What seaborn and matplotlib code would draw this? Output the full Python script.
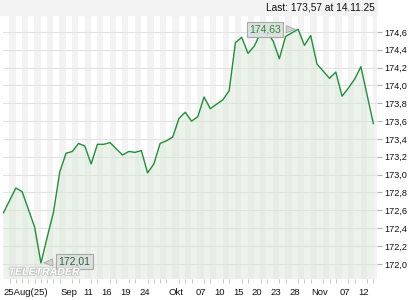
import numpy as np
import pandas as pd
import matplotlib
matplotlib.use("Agg")
import matplotlib.pyplot as plt
import matplotlib.patheffects as pe
from matplotlib.ticker import FuncFormatter, FixedLocator, MultipleLocator
import seaborn as sns

# ---- data ----
prices = [172.57, 172.71, 172.85, 172.81, 172.61, 172.41, 172.01, 172.30, 172.58, 173.03,
          173.24, 173.26, 173.35, 173.32, 173.12, 173.34, 173.34, 173.36, 173.29, 173.22,
          173.26, 173.25, 173.27, 173.02, 173.12, 173.35, 173.38, 173.42, 173.63, 173.70,
          173.60, 173.65, 173.87, 173.74, 173.79, 173.84, 173.94, 174.48, 174.54, 174.36,
          174.44, 174.59, 174.60, 174.50, 174.30, 174.55, 174.59, 174.63, 174.45, 174.56,
          174.24, 174.16, 174.08, 174.15, 173.88, 173.97, 174.07, 174.21, 173.89, 173.57]
dates = pd.bdate_range("2025-08-25", "2025-11-14")
tick_dates = ["2025-08-25", "2025-09-08", "2025-09-11", "2025-09-16", "2025-09-19",
              "2025-09-24", "2025-10-01", "2025-10-07", "2025-10-10", "2025-10-15",
              "2025-10-20", "2025-10-23", "2025-10-28", "2025-11-03", "2025-11-07",
              "2025-11-12"]
tick_labels = ["25Aug(25)", "Sep", "11", "16", "19", "24", "Okt", "07", "10", "15",
               "20", "23", "28", "Nov", "07", "12"]
y_ticks = [172.0, 172.2, 172.4, 172.6, 172.8, 173.0, 173.2, 173.4, 173.6, 173.8,
           174.0, 174.2, 174.4, 174.6]
last_text = "Last: 173,57 at 14.11.25"

df = pd.DataFrame({"idx": np.arange(len(prices)), "price": prices})

sns.set_theme(style="white")
plt.rcParams["font.family"] = ["Liberation Sans", "DejaVu Sans"]

fig = plt.figure(figsize=(4.2, 3.0), dpi=100)
W, H = 420, 300
left, right, top, bottom = 3, 377, 15, 279
ax = fig.add_axes([left / W, (H - bottom) / H, (right - left) / W, (bottom - top) / H])

# top band
fig.patches.append(plt.Rectangle((0, (H - top) / H), right / W, top / H,
                                 transform=fig.transFigure, color="#f3f3f3", zorder=0))
fig.text((right - 2) / W, (H - 7.5) / H, last_text, ha="right", va="center",
         fontsize=7.3, color="#111111")

ax.set_facecolor("white")
n = len(prices)
ax.set_xlim(-0.05, n - 1 + 0.57)
ax.set_ylim(171.83, 174.79)

# alternating daily stripes
for k in range(-1, n + 1):
    if k % 2 != 0:
        ax.axvspan(k - 0.05, k + 0.95, color="#f3f3f3", lw=0, zorder=0)

# grid
for v in y_ticks:
    ax.axhline(v, color="#e2e2e2", lw=0.8, zorder=1)

# area fill
ax.fill_between(df["idx"], df["price"], 171.0, color="#d6e6d2", alpha=0.45, lw=0, zorder=2)
sns.lineplot(data=df, x="idx", y="price", ax=ax, color="#1f8f3a", lw=1.0, zorder=3)

# spines
for s in ax.spines.values():
    s.set_visible(False)

# y axis on right
ax.yaxis.tick_right()
ax.yaxis.set_major_locator(FixedLocator(y_ticks))
ax.yaxis.set_major_formatter(FuncFormatter(lambda v, p: f"{v:.1f}".replace(".", ",")))
ax.tick_params(axis="y", which="major", length=3.5, width=0.8, color="#b0b0b0",
               labelsize=6.6, pad=1.5, labelcolor="#111111", right=True, left=False)

# x axis
pos = [dates.get_loc(pd.Timestamp(d)) for d in tick_dates]
ax.set_xticks(pos)
ax.set_xticklabels(tick_labels)
ax.xaxis.set_minor_locator(MultipleLocator(1))
ax.tick_params(axis="x", which="major", length=0, labelsize=6.8, pad=6.5,
               labelcolor="#111111")
ax.tick_params(axis="x", which="minor", length=3, width=0.7, color="#c8c8c8", bottom=True)
for lbl in ax.get_xticklabels():
    lbl.set_horizontalalignment("center")
    lbl.set_transform(lbl.get_transform() + matplotlib.transforms.ScaledTranslation(3 / 100, 0, fig.dpi_scale_trans))
ax.get_xticklabels()[0].set_horizontalalignment("left")
ax.get_xticklabels()[0].set_transform(ax.get_xaxis_transform() + matplotlib.transforms.ScaledTranslation(0, -6.5 / 72, fig.dpi_scale_trans))
ax.set_xlabel("")
ax.set_ylabel("")

# watermark
ax.text(0.015, 0.008, "TELETRADER", transform=ax.transAxes, fontsize=7.6, fontweight="bold",
        fontstyle="italic", color="white", ha="left", va="bottom", zorder=7,
        path_effects=[pe.withStroke(linewidth=1.2, foreground="#c4c4c4")])

# max / min annotations
imax = int(np.argmax(prices))
imin = int(np.argmin(prices))
box = dict(boxstyle="square,pad=0.22", fc="#dedede", ec="#a8a8a8", lw=0.8)
ax.annotate(f"{prices[imax]:.2f}".replace(".", ","), xy=(imax, prices[imax]),
            xytext=(-24, 0), textcoords="offset points", ha="center", va="center",
            fontsize=7.5, color="#1f8f3a", bbox=box, zorder=6,
            arrowprops=dict(arrowstyle="wedge,tail_width=0.7,shrink_factor=0.5",
                            fc="#d0d0d0", ec="#a8a8a8", lw=0.6))
ax.annotate(f"{prices[imin]:.2f}".replace(".", ","), xy=(imin, prices[imin]),
            xytext=(24, 1), textcoords="offset points", ha="center", va="center",
            fontsize=7.5, color="#1d6a30", bbox=box, zorder=6,
            arrowprops=dict(arrowstyle="wedge,tail_width=0.7,shrink_factor=0.5",
                            fc="#d0d0d0", ec="#a8a8a8", lw=0.6))

fig.savefig("out.png", dpi=100)
